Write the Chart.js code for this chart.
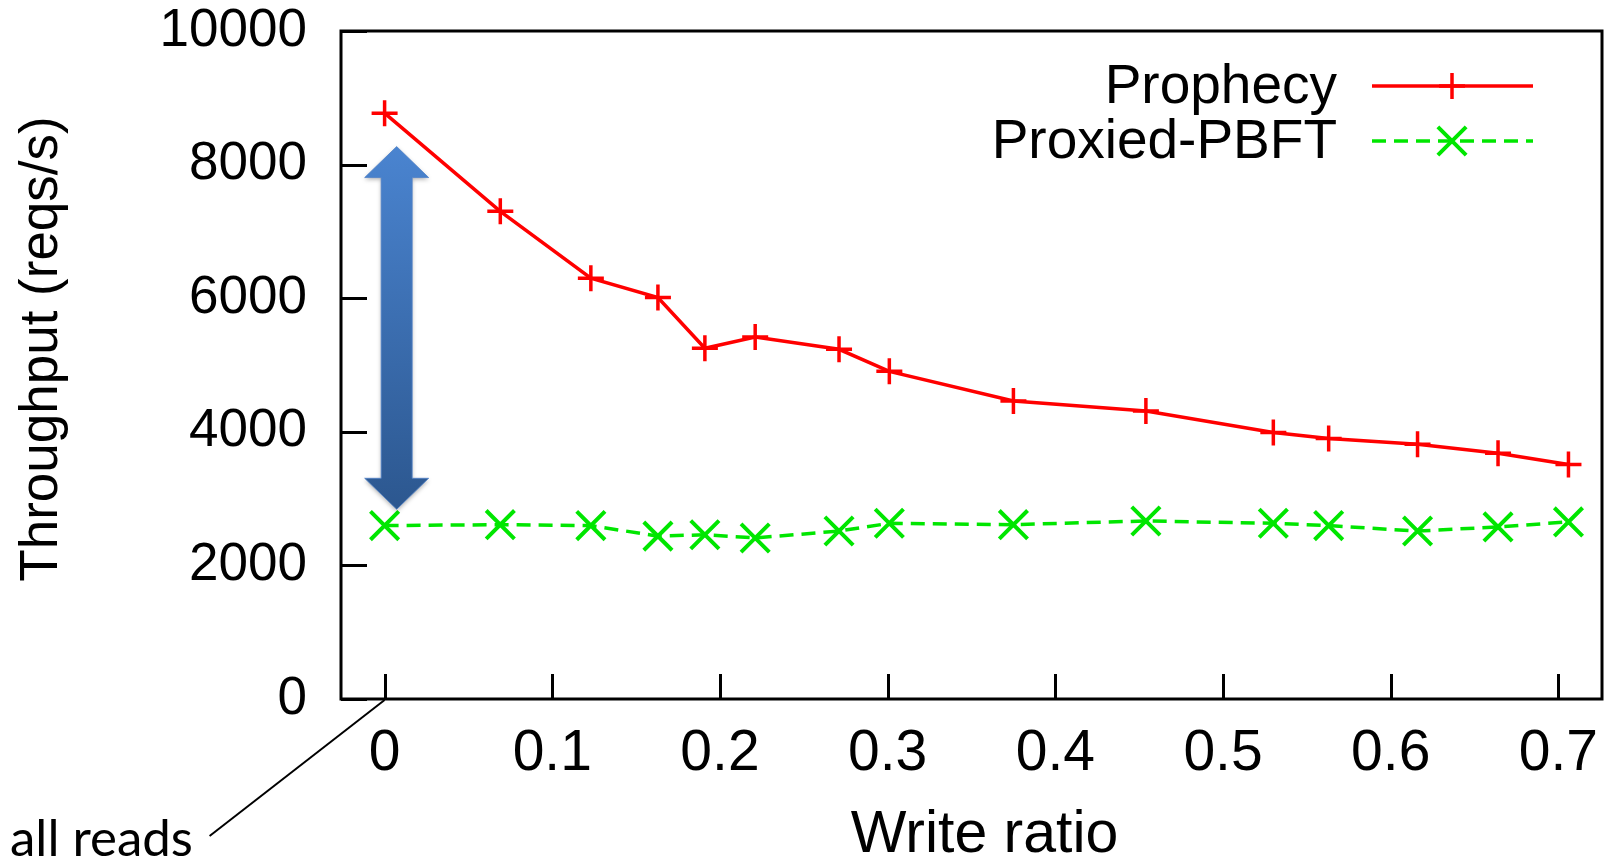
<!DOCTYPE html>
<html><head><meta charset="utf-8">
<script src="https://cdn.jsdelivr.net/npm/chart.js@4.4.1/dist/chart.umd.min.js"></script>
<style>html,body{margin:0;padding:0;background:#fff;overflow:hidden}#wrap{width:1616px;height:865px;position:relative}</style>
</head><body><div id="wrap"><canvas id="c" width="1616" height="865"></canvas></div>
<script>
// ---- data ----
const writeRatio = [0, 0.069, 0.123, 0.163, 0.191, 0.221, 0.271, 0.301, 0.375, 0.454, 0.530, 0.563, 0.616, 0.664, 0.706];
const prophecy = [8770, 7300, 6300, 6010, 5250, 5420, 5235, 4905, 4460, 4310, 3990, 3900, 3815, 3680, 3510];
const proxiedPbft = [2596, 2610, 2596, 2438, 2459, 2411, 2514, 2630, 2610, 2665, 2630, 2596, 2514, 2576, 2651];
const seriesNames = ['Prophecy', 'Proxied-PBFT'];
const xTickValues = [0, 0.1, 0.2, 0.3, 0.4, 0.5, 0.6, 0.7];
const xTickLabels = ['0', '0.1', '0.2', '0.3', '0.4', '0.5', '0.6', '0.7'];
const yTickValues = [0, 2000, 4000, 6000, 8000, 10000];
const yTickLabels = ['0', '2000', '4000', '6000', '8000', '10000'];
const xTitle = 'Write ratio';
const yTitle = 'Throughput (reqs/s)';
// annotation (data units): gap arrow at write ratio 0, spanning PBFT..Prophecy
const arrowAt = [0.0072];
const arrowSpan = [2840, 8270];
const noteText = 'all reads';

const FONT = '"Liberation Sans", Arial, sans-serif';

function shiftTitle(s, dx, dy) {
  if (s._titleShifted) return;
  s._titleShifted = true;
  const orig = s.drawTitle;
  s.drawTitle = function () {
    const ctx = this.ctx;
    ctx.save();
    ctx.translate(dx, dy);
    orig.apply(this, arguments);
    ctx.restore();
  };
}

const frame = {
  id: 'frame',
  afterDatasetsDraw(chart) {
    const {ctx, chartArea: a, scales: {x, y}} = chart;
    ctx.save();
    ctx.strokeStyle = '#000';
    ctx.lineWidth = 3;
    ctx.strokeRect(a.left, a.top, a.right - a.left, a.bottom - a.top);
    ctx.beginPath();
    xTickValues.forEach(v => { const px = Math.round(x.getPixelForValue(v)) + 0.5; ctx.moveTo(px, a.bottom); ctx.lineTo(px, a.bottom - 25); });
    yTickValues.forEach(v => { const py = Math.round(y.getPixelForValue(v)) + 0.5; ctx.moveTo(a.left, py); ctx.lineTo(a.left + 26, py); });
    ctx.stroke();

    // gap arrow
    const cx = x.getPixelForValue(arrowAt[0]);
    const yTop = y.getPixelForValue(arrowSpan[1]);
    const yBot = y.getPixelForValue(arrowSpan[0]);
    const sh = 15.5, hh = 32, hl = 31;
    ctx.beginPath();
    ctx.moveTo(cx, yTop);
    ctx.lineTo(cx + hh, yTop + hl); ctx.lineTo(cx + sh, yTop + hl);
    ctx.lineTo(cx + sh, yBot - hl); ctx.lineTo(cx + hh, yBot - hl);
    ctx.lineTo(cx, yBot);
    ctx.lineTo(cx - hh, yBot - hl); ctx.lineTo(cx - sh, yBot - hl);
    ctx.lineTo(cx - sh, yTop + hl); ctx.lineTo(cx - hh, yTop + hl);
    ctx.closePath();
    const g = ctx.createLinearGradient(0, yTop, 0, yBot);
    g.addColorStop(0, '#4a84d0');
    g.addColorStop(1, '#2c578f');
    ctx.save();
    ctx.shadowColor = 'rgba(0,0,0,0.3)';
    ctx.shadowBlur = 4; ctx.shadowOffsetY = 2;
    ctx.fillStyle = g;
    ctx.fill();
    ctx.restore();
    ctx.strokeStyle = 'rgba(80,130,200,0.8)';
    ctx.lineWidth = 1;
    ctx.stroke();

    // "all reads" callout
    const x0 = x.getPixelForValue(0), y0 = y.getPixelForValue(0);
    ctx.beginPath();
    ctx.strokeStyle = '#000';
    ctx.lineWidth = 2;
    ctx.moveTo(x0, y0 + 1);
    ctx.lineTo(x0 - 175, y0 + 137);
    ctx.stroke();
    ctx.fillStyle = '#000';
    ctx.font = '51px Lato, "Open Sans", sans-serif';
    ctx.textAlign = 'left';
    ctx.textBaseline = 'alphabetic';
    ctx.fillText(noteText, 10, 856);

    // legend inside plot (top right)
    ctx.font = '55px ' + FONT;
    ctx.textAlign = 'right';
    ctx.textBaseline = 'middle';
    const rows = [86, 141];
    chart.data.datasets.forEach((ds, i) => {
      const ry = rows[i];
      ctx.fillStyle = '#000';
      ctx.fillText(ds.label, 1337, ry + 2);
      ctx.beginPath();
      ctx.strokeStyle = ds.borderColor;
      ctx.lineWidth = ds.borderWidth;
      ctx.setLineDash(ds.borderDash || []);
      ctx.moveTo(1372, ry); ctx.lineTo(1533, ry);
      ctx.stroke();
      ctx.setLineDash([]);
      const mx = 1452;
      ctx.beginPath();
      ctx.lineWidth = ds.pointBorderWidth;
      if (ds.pointStyle === 'cross') {
        ctx.moveTo(mx, ry - ds.pointRadius); ctx.lineTo(mx, ry + ds.pointRadius);
        ctx.moveTo(mx - ds.pointRadius, ry); ctx.lineTo(mx + ds.pointRadius, ry);
      } else {
        const d = ds.pointRadius * Math.SQRT1_2;
        ctx.moveTo(mx - d, ry - d); ctx.lineTo(mx + d, ry + d);
        ctx.moveTo(mx - d, ry + d); ctx.lineTo(mx + d, ry - d);
      }
      ctx.stroke();
    });
    ctx.restore();
  }
};

new Chart(document.getElementById('c'), {
  type: 'line',
  data: {
    datasets: [
      {
        label: seriesNames[0],
        data: writeRatio.map((v, i) => ({x: v, y: prophecy[i]})),
        borderColor: '#ff0000', backgroundColor: '#ff0000',
        borderWidth: 3.5, tension: 0, fill: false,
        pointStyle: 'cross', pointRadius: 13, pointBorderWidth: 3.5,
        pointBorderColor: '#ff0000'
      },
      {
        label: seriesNames[1],
        data: writeRatio.map((v, i) => ({x: v, y: proxiedPbft[i]})),
        borderColor: '#00e600', backgroundColor: '#00e600',
        borderWidth: 3.5, borderDash: [14, 8], tension: 0, fill: false,
        pointStyle: 'crossRot', pointRadius: 20, pointBorderWidth: 4,
        pointBorderColor: '#00e600'
      }
    ]
  },
  options: {
    responsive: false, animation: false, devicePixelRatio: 1,
    layout: {autoPadding: false, padding: {left: 0, right: 14, top: 31, bottom: 0}},
    plugins: {legend: {display: false}, tooltip: {enabled: false}},
    scales: {
      x: {
        type: 'linear', min: -0.026, max: 0.726,
        afterBuildTicks: s => { s.ticks = xTickValues.map(v => ({value: v})); },
        afterFit: s => { s.height = 166; s.paddingLeft = 0; s.paddingRight = 0; shiftTitle(s, 13, 0); },
        grid: {display: false, drawTicks: false}, border: {display: false},
        ticks: {
          callback: (v) => xTickLabels[xTickValues.indexOf(v)] ?? '',
          font: {family: FONT, size: 57}, color: '#000', padding: 21, maxRotation: 0, autoSkip: false
        },
        title: {display: true, text: xTitle, color: '#000', font: {family: FONT, size: 59, lineHeight: 1}, padding: {top: 0, bottom: 0}}
      },
      y: {
        type: 'linear', min: 0, max: 10000,
        afterBuildTicks: s => { s.ticks = yTickValues.map(v => ({value: v})); },
        afterFit: s => { s.width = 341; s.paddingTop = 0; s.paddingBottom = 0; shiftTitle(s, 0, -16); },
        grid: {display: false, drawTicks: false}, border: {display: false},
        ticks: {
          callback: (v) => yTickLabels[yTickValues.indexOf(v)] ?? '',
          font: {family: FONT, size: 53}, color: '#000', padding: 34
        },
        title: {display: true, text: yTitle, color: '#000', font: {family: FONT, size: 53, lineHeight: 1.2}, padding: {top: 11, bottom: 0}}
      }
    }
  },
  plugins: [frame]
});
</script></body></html>
